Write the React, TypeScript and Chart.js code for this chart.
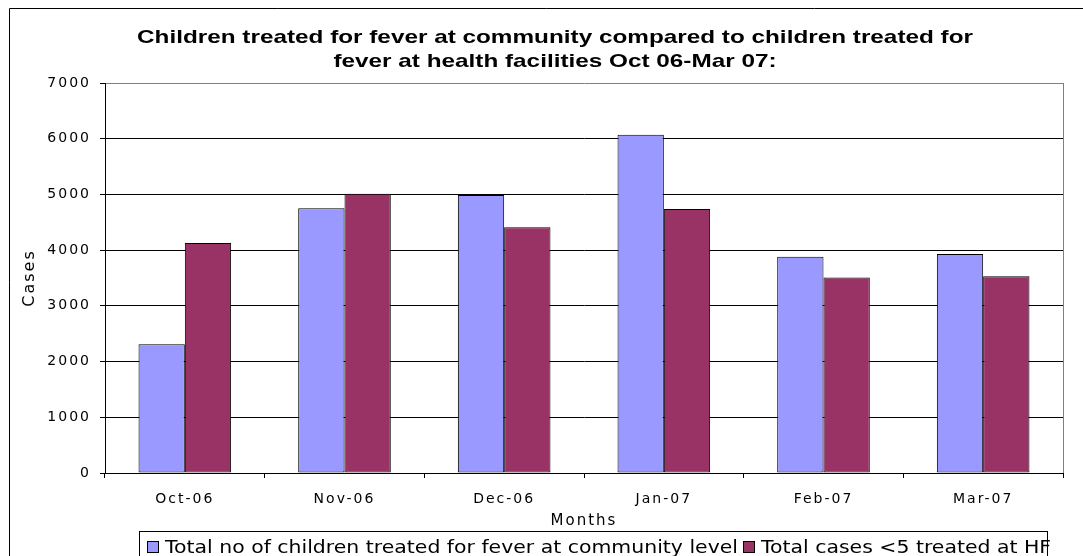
import React, { useEffect, useRef } from "react";
import { Chart, registerables } from "chart.js";

Chart.register(...registerables);

const months = ["Oct-06", "Nov-06", "Dec-06", "Jan-07", "Feb-07", "Mar-07"];
const communityTreated = [2310, 4750, 4990, 6070, 3880, 3930];
const facilityTreated = [4130, 5010, 4410, 4740, 3510, 3530];
const seriesLabels = [
  "Total no of children treated for fever at community level",
  "Total cases <5 treated at HF",
];
const seriesColors = ["#9999FF", "#993366"];
const titleLines = [
  "Children treated for fever at community compared to children treated for",
  "fever at health facilities Oct 06-Mar 07:",
];
const yAxisTitle = "Cases";
const xAxisTitle = "Months";
const yMin = 0;
const yMax = 7000;
const yStep = 1000;

const decorPlugin = {
  id: "decor",
  beforeDraw(chart: any) {
    const ctx = chart.ctx;
    ctx.save();
    ctx.fillStyle = "#ffffff";
    ctx.fillRect(0, 0, chart.width, chart.height);
    ctx.restore();
    ctx.letterSpacing = "2px";
  },
  afterDraw(chart: any) {
    const ctx = chart.ctx;
    const area = chart.chartArea;
    ctx.save();
    ctx.letterSpacing = "0px";

    // outer frame (top + left)
    ctx.strokeStyle = "#000";
    ctx.lineWidth = 1;
    ctx.beginPath();
    ctx.moveTo(chart.width, 8.5);
    ctx.lineTo(9.5, 8.5);
    ctx.lineTo(9.5, chart.height);
    ctx.stroke();

    // plot area right border
    ctx.strokeStyle = "#808080";
    ctx.beginPath();
    ctx.moveTo(Math.round(area.right) + 0.5, area.top);
    ctx.lineTo(Math.round(area.right) + 0.5, area.bottom);
    ctx.stroke();

    // title
    ctx.fillStyle = "#000";
    ctx.font = 'bold 19px "Liberation Sans", Arial, sans-serif';
    ctx.textAlign = "center";
    ctx.textBaseline = "alphabetic";
    const w1 = ctx.measureText(titleLines[0]).width;
    const sx = 836 / w1;
    const baselines = [43, 67];
    titleLines.forEach((line, i) => {
      ctx.save();
      ctx.translate(555, baselines[i]);
      ctx.scale(sx, 1);
      ctx.fillText(line, 0, 0);
      ctx.restore();
    });

    // legend box
    ctx.strokeStyle = "#000";
    ctx.lineWidth = 1;
    ctx.strokeRect(139.5, 531.5, 908, 40);

    // legend items
    ctx.font = '17px "DejaVu Sans", sans-serif';
    ctx.textAlign = "left";
    const lw = ctx.measureText(chart.data.datasets[0].label).width;
    const lsx = 573 / lw;
    let x = 147;
    chart.data.datasets.forEach((ds: any) => {
      ctx.fillStyle = ds.backgroundColor;
      ctx.fillRect(x, 541, 12, 12);
      ctx.strokeStyle = "#000";
      ctx.strokeRect(x + 0.5, 541.5, 11, 11);
      x += 18;
      ctx.save();
      ctx.translate(x, 552.5);
      ctx.scale(lsx, 1);
      ctx.fillStyle = "#000";
      ctx.fillText(ds.label, 0, 0);
      ctx.restore();
      x += ctx.measureText(ds.label).width * lsx + 5;
    });

    ctx.restore();
  },
};

export default function App() {
  const canvasRef = useRef<HTMLCanvasElement>(null);

  useEffect(() => {
    const tickFont = { family: '"DejaVu Sans", sans-serif', size: 14 };
    const chart = new Chart(canvasRef.current as HTMLCanvasElement, {
      type: "bar",
      data: {
        labels: months,
        datasets: [
          {
            label: seriesLabels[0],
            data: communityTreated,
            backgroundColor: seriesColors[0],
            borderColor: "#000",
            borderWidth: 1,
            borderSkipped: false,
            barPercentage: 1,
            categoryPercentage: 0.58,
          },
          {
            label: seriesLabels[1],
            data: facilityTreated,
            backgroundColor: seriesColors[1],
            borderColor: "#000",
            borderWidth: 1,
            borderSkipped: false,
            barPercentage: 1,
            categoryPercentage: 0.58,
          },
        ],
      },
      options: {
        animation: false,
        responsive: true,
        maintainAspectRatio: false,
        layout: { padding: { left: 0, right: 20, top: 83, bottom: 23 } },
        plugins: {
          legend: { display: false },
          title: { display: false },
          tooltip: { enabled: false },
        },
        scales: {
          x: {
            grid: {
              display: true,
              drawOnChartArea: false,
              drawTicks: true,
              tickLength: 5,
              color: "#000",
              offset: true,
            },
            border: { display: true, color: "#000", width: 1 },
            ticks: {
              font: tickFont,
              color: "#000",
              padding: 13,
              autoSkip: false,
              maxRotation: 0,
            },
            title: {
              display: true,
              text: xAxisTitle,
              font: { family: '"DejaVu Sans", sans-serif', size: 15 },
              color: "#000",
              padding: { top: 0, bottom: 3 },
            },
            afterFit(scale: any) {
              scale.height = 60;
            },
          },
          y: {
            min: yMin,
            max: yMax,
            grid: {
              color: (c: any) => (c.tick && c.tick.value === yMax ? "#808080" : "#000"),
              tickColor: "#000",
              tickLength: 5,
              lineWidth: 1,
            },
            border: { display: true, color: "#000", width: 1 },
            ticks: {
              stepSize: yStep,
              font: tickFont,
              color: "#000",
              padding: 9,
              callback: (v: any) => String(v),
            },
            title: {
              display: true,
              text: yAxisTitle,
              font: { family: '"DejaVu Sans", sans-serif', size: 16 },
              color: "#000",
              padding: { top: 20, bottom: 0 },
            },
            afterFit(scale: any) {
              scale.width = 105;
            },
          },
        },
      },
      plugins: [decorPlugin],
    });
    return () => chart.destroy();
  }, []);

  return (
    <div
      style={{
        position: "absolute",
        left: 0,
        top: 0,
        width: 1083,
        height: 556,
        background: "#fff",
      }}
    >
      <canvas ref={canvasRef} />
    </div>
  );
}
